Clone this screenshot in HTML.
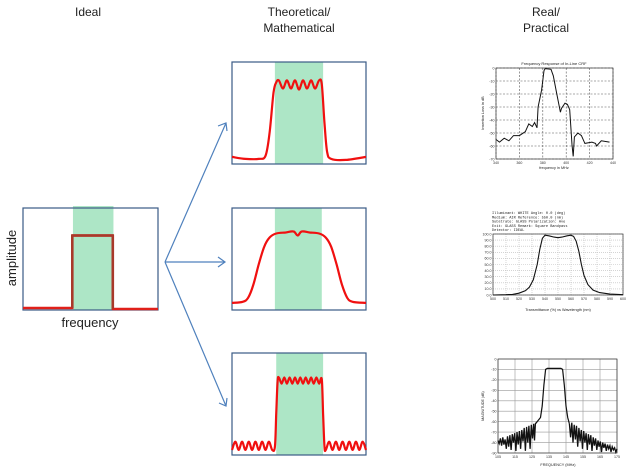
<!DOCTYPE html>
<html><head><meta charset="utf-8"><style>
body{margin:0;background:#fff}
svg{display:block;font-family:"Liberation Sans",sans-serif}
</style></head><body>
<svg id="s" width="638" height="472" viewBox="0 0 638 472">
<g font-size="12" fill="#222" text-anchor="middle">
<text x="88" y="16">Ideal</text>
<text x="299" y="16">Theoretical/</text>
<text x="299" y="32">Mathematical</text>
<text x="546" y="16">Real/</text>
<text x="546" y="32">Practical</text>
</g>
<g stroke="#4f81bd" stroke-width="1.2" fill="none">
<path d="M165,262 L226,123 M218,126 L226,123 L227,131"/>
<path d="M165,262 L225,262 M218,257 L225,262 L218,267"/>
<path d="M165,262 L226,406 M227,398 L226,406 L219,403"/>
</g>
<g id="plots"></g>
</svg>
<script>
// ---- Ideal chart data (freq 0-100, amp 0-100)
const idealCurve = [[0,2],[36.5,2],[36.5,73],[66.5,73],[66.5,1],[100,1]];
const idealBand = [37, 67];
// ---- Theoretical charts
const theoTopCurve = [[0,7],[10,5],[20,5],[25,8],[28,30],[31,70],[33,80],[35,82],[38,74],[41,82],[44,74],[47,82],[50,73],[53,82],[56,74],[59,82],[62,74],[65,82],[67,78],[69,40],[71,12],[74,5],[85,4],[100,7]];
const theoMidCurve = [[0,7],[8,8],[12,12],[16,25],[20,45],[24,62],[28,71],[33,75],[40,76],[46,77],[49,73],[52,77],[58,76],[65,75],[70,71],[74,62],[78,45],[82,25],[86,12],[90,8],[100,7]];
const theoBotCurve = [[0,5],[2.5,13],[5,5],[7.5,13],[10,5],[12.5,13],[15,5],[17.5,13],[20,5],[22.5,13],[25,5],[27.5,13],[30,5],[32,8],[33,40],[34,72],[35,76],[37,70],[39,76],[41,70],[43,76],[45,70],[47,76],[49,70],[51,76],[53,70],[55,76],[57,70],[59,76],[61,70],[63,76],[65,70],[67,74],[68,40],[69,8],[70,5],[72.5,13],[75,5],[77.5,13],[80,5],[82.5,13],[85,5],[87.5,13],[90,5],[92.5,13],[95,5],[97.5,13],[100,5]];
const theoBands = [[32,68],[32,67],[33,68]];
// ---- Real chart 1 (MHz, dB)
const r1Curve = [[340,-55],[343,-57],[347,-54],[351,-56],[355,-52],[360,-52],[365,-49],[368,-43],[371,-45],[373,-42],[375,-46],[376,-30],[379,-17],[381,-2],[382,-0.5],[387,-1],[389,-6],[392,-20],[395,-34],[396,-31],[399,-27],[401,-28],[403,-32],[405,-59],[406,-68],[407,-53],[410,-50],[413,-52],[416,-58],[422,-57],[425,-58],[426,-60],[430,-56],[437,-57]];
const r1XTicks = [340,360,380,400,420,440];
const r1YTicks = [0,-10,-20,-30,-40,-50,-60,-70];
// ---- Real chart 2 (nm, %)
const r2Curve = [[500,0],[510,0.5],[515,1],[520,3],[525,7],[528,13],[531,25],[534,50],[536,75],[538,93],[540,98],[543,97],[547,95],[550,94],[553,95],[557,97],[560,98],[562,96],[564,88],[566,72],[568,50],[570,32],[573,17],[577,8],[582,4],[590,1.5],[600,0.5]];
const r2XTicks = [500,510,520,530,540,550,560,570,580,590,600];
const r2YTicks = [0,10,20,30,40,50,60,70,80,90,100];
const r2Info = ["Illuminant:    WHITE      Angle:        0.0 (deg)","Medium:        AIR        Reference:    550.0 (nm)","Substrate:     GLASS      Polarization: Ave","Exit:          GLASS      Remark: Square Bandpass","Detector:      IDEAL"];
// ---- Real chart 3 (MHz, dB)
const r3Left = [[105,-78],[105.7,-81],[106.4,-76],[107.1,-83],[107.8,-75],[108.5,-82],[109.2,-77],[109.9,-86],[110.6,-74],[111.3,-84],[112,-73],[112.7,-87],[113.4,-72],[114.1,-80],[114.8,-71],[115.5,-88],[116.2,-70],[116.9,-82],[117.6,-69],[118.3,-86],[119,-68],[119.7,-79],[120.4,-66],[121.1,-88],[121.8,-65],[122.5,-80],[123.2,-64],[123.9,-86],[124.6,-63],[125.3,-76],[126,-62],[126.5,-78],[127,-62],[128,-60]];
const r3Pass = [[128,-60],[130,-56],[131,-45],[132,-25],[133,-10],[134,-9],[140,-9],[142,-9],[143,-10],[144,-25],[145,-45],[146,-56],[147,-62]];
const r3Right = [[147,-62],[147.7,-75],[148.4,-61],[149.1,-80],[149.8,-63],[150.5,-77],[151.2,-64],[151.9,-84],[152.6,-66],[153.3,-79],[154,-68],[154.7,-86],[155.4,-69],[156.1,-80],[156.8,-71],[157.5,-87],[158.2,-72],[158.9,-82],[159.6,-73],[160.3,-88],[161,-75],[161.7,-83],[162.4,-76],[163.1,-87],[163.8,-78],[164.5,-84],[165.2,-79],[165.9,-89],[166.6,-80],[167.3,-85],[168,-81],[168.7,-88],[169.4,-82],[170.1,-86],[170.8,-83],[171.5,-89],[172.2,-84],[172.9,-87],[173.6,-85],[174.3,-89],[175,-86]];
const r3XTicks = [105,115,125,135,145,155,165,175];
const r3YTicks = [0,-10,-20,-30,-40,-50,-60,-70,-80,-90];

const NS="http://www.w3.org/2000/svg";
const root=document.getElementById('plots');
function mk(tag,attrs,parent){const e=document.createElementNS(NS,tag);for(const k in attrs)e.setAttribute(k,attrs[k]);(parent||root).appendChild(e);return e;}
function lin(d0,d1,r0,r1){return v=>r0+(v-d0)/(d1-d0)*(r1-r0);}
function pts(arr,sx,sy){return arr.map(p=>sx(p[0]).toFixed(1)+','+sy(p[1]).toFixed(1)).join(' ');}
function smoothPath(arr,sx,sy){
  const P=arr.map(p=>[sx(p[0]),sy(p[1])]);
  let d='M'+P[0][0].toFixed(1)+','+P[0][1].toFixed(1);
  for(let i=0;i<P.length-1;i++){
    const p0=P[i-1]||P[i],p1=P[i],p2=P[i+1],p3=P[i+2]||p2;
    const c1=[p1[0]+(p2[0]-p0[0])/6,p1[1]+(p2[1]-p0[1])/6];
    const c2=[p2[0]-(p3[0]-p1[0])/6,p2[1]-(p3[1]-p1[1])/6];
    d+=' C'+c1[0].toFixed(1)+','+c1[1].toFixed(1)+' '+c2[0].toFixed(1)+','+c2[1].toFixed(1)+' '+p2[0].toFixed(1)+','+p2[1].toFixed(1);
  }
  return d;
}

function concept(name,box,band,curve,color,w,smooth){
  const g=mk('g',{});
  
  
  const sx=lin(0,100,box[0],box[2]), sy=lin(0,100,box[3],box[1]);
  const ex=name==='ideal-chart'?2:0;
  const b=mk('rect',{x:sx(band[0]),y:box[1]-ex,width:sx(band[1])-sx(band[0]),height:box[3]-box[1]+ex,fill:'#ade6c6'},g);
  
  
  const r=mk('rect',{x:box[0],y:box[1],width:box[2]-box[0],height:box[3]-box[1],fill:'none',stroke:'#3a5a85','stroke-width':1.2},g);
  
  
  let l;
  if(smooth) l=mk('path',{d:smoothPath(curve,sx,sy),fill:'none',stroke:color,'stroke-width':w,'stroke-linejoin':'round'},g);
  else l=mk('polyline',{points:pts(curve,sx,sy),fill:'none',stroke:color,'stroke-width':w,'stroke-linejoin':'round'},g);
  
  
  return {g,sx,sy};
}
const ic=concept('ideal-chart',[23,208,158,310],idealBand,idealCurve,'#e0201a',2.5,false);
const topSeg=mk('polyline',{points:pts(idealCurve.slice(1,5),ic.sx,ic.sy),fill:'none',stroke:'#a8392a','stroke-width':2.5},ic.g);


concept('theoretical-chart-top',[232,62,366,164],theoBands[0],theoTopCurve,'#f01010',2.2,true);
concept('theoretical-chart-middle',[232,208,366,310],theoBands[1],theoMidCurve,'#f01010',2.2,true);
concept('theoretical-chart-bottom',[232,353,366,455],theoBands[2],theoBotCurve,'#f01010',2.2,true);
let t=mk('text',{x:16,y:258,'font-size':13,'text-anchor':'middle',transform:'rotate(-90 16 258)',fill:'#222'});
t.textContent='amplitude';


t=mk('text',{x:90,y:327,'font-size':13,'text-anchor':'middle',fill:'#222'});
t.textContent='frequency';



function realChart(name,box,xd,yd,xt,yt,grid,dash,fmt){
  const g=mk('g',{});
  
  
  const sx=lin(xd[0],xd[1],box[0],box[2]), sy=lin(yd[0],yd[1],box[3],box[1]);
  xt.forEach(v=>{const ln=mk('line',{x1:sx(v),x2:sx(v),y1:box[1],y2:box[3],stroke:grid,'stroke-width':0.6,'stroke-dasharray':dash},g);
    
    
    const tx=mk('text',{x:sx(v),y:box[3]+5,'font-size':3.6,'text-anchor':'middle',fill:'#333'},g);tx.textContent=fmt?fmt(v):v;
    
    });
  yt.forEach(v=>{const ln=mk('line',{y1:sy(v),y2:sy(v),x1:box[0],x2:box[2],stroke:grid,'stroke-width':0.6,'stroke-dasharray':dash},g);
    
    
    const tx=mk('text',{x:box[0]-1.5,y:sy(v)+1.3,'font-size':3.6,'text-anchor':'end',fill:'#333'},g);tx.textContent=fmt?fmt(v,1):v;
    
    });
  const r=mk('rect',{x:box[0],y:box[1],width:box[2]-box[0],height:box[3]-box[1],fill:'none',stroke:'#333','stroke-width':0.7},g);
  
  
  return {g,sx,sy};
}
let c=realChart('real-chart-top',[496,68,613,159],[340,440],[-70,0],r1XTicks,r1YTicks,'#555','2,1.5');
let p=mk('polyline',{points:pts(r1Curve,c.sx,c.sy),fill:'none',stroke:'#111','stroke-width':1},c.g);


t=mk('text',{x:554,y:65,'font-size':4,'text-anchor':'middle',fill:'#222'},c.g);t.textContent='Frequency Response of In-Line CRF';


t=mk('text',{x:554,y:169,'font-size':3.8,'text-anchor':'middle',fill:'#222'},c.g);t.textContent='frequency in MHz';


t=mk('text',{x:484,y:113,'font-size':3.8,'text-anchor':'middle',fill:'#222',transform:'rotate(-90 484 113)'},c.g);t.textContent='Insertion Loss in dB';



c=realChart('real-chart-middle',[493,234,623,295],[500,600],[0,100],r2XTicks,r2YTicks,'#bbb','1,1',(v,y)=>y?v.toFixed(1):v);
p=mk('polyline',{points:pts(r2Curve,c.sx,c.sy),fill:'none',stroke:'#111','stroke-width':1.1},c.g);


r2Info.forEach((s,i)=>{const tx=mk('text',{x:492,y:214+i*4.3,'font-size':3.6,fill:'#222','font-family':'Liberation Mono,monospace','xml:space':'preserve'},c.g);tx.textContent=s;
  
  });
t=mk('text',{x:558,y:311,'font-size':3.8,'text-anchor':'middle',fill:'#222'},c.g);t.textContent='Transmittance (%) vs Wavelength (nm)';



c=realChart('real-chart-bottom',[498,359,617,453],[105,175],[-90,0],r3XTicks,r3YTicks,'#999','none');
[r3Left,r3Pass,r3Right].forEach((arr,i)=>{const q=mk('polyline',{points:pts(arr,c.sx,c.sy),fill:'none',stroke:'#111','stroke-width':i===1?1.2:1.3},c.g);
  
  });
t=mk('text',{x:558,y:466,'font-size':3.8,'text-anchor':'middle',fill:'#222'},c.g);t.textContent='FREQUENCY (MHz)';


t=mk('text',{x:484,y:406,'font-size':3.6,'text-anchor':'middle',fill:'#222',transform:'rotate(-90 484 406)'},c.g);t.textContent='MAGNITUDE (dB)';


</script>
</body></html>
